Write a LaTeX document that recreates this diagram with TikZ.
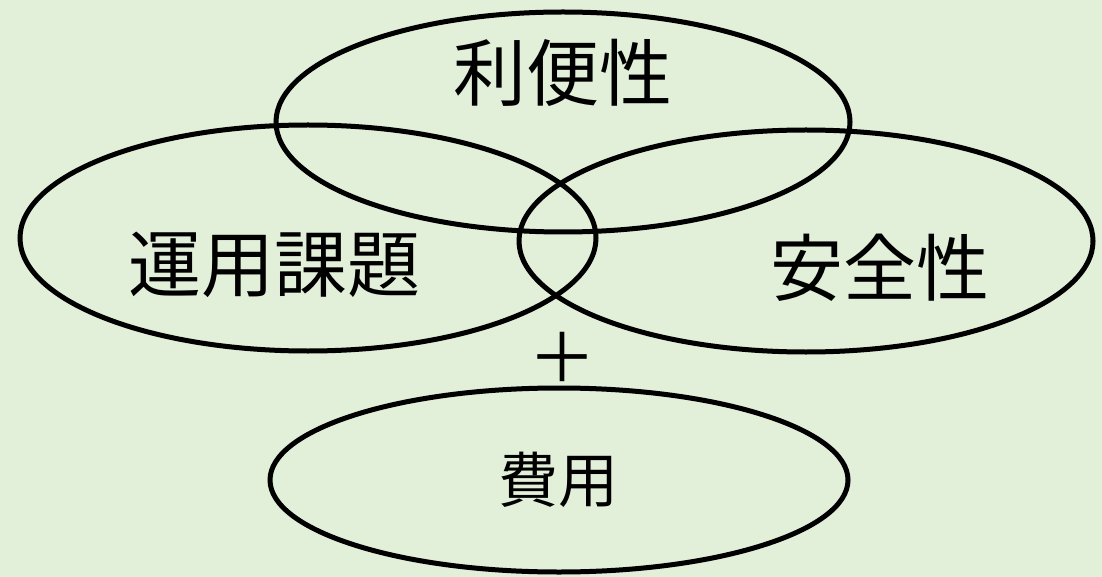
\documentclass[tikz,border=0pt]{standalone}
\usepackage{fontspec}
\newfontfamily\jp{Noto Sans CJK JP}
\definecolor{bg}{HTML}{E2EFD9}
\begin{document}
\begin{tikzpicture}[x=1pt,y=-1pt,
  oval/.style={draw=black,line width=5pt},
  big/.style={font=\jp\fontsize{73}{86}\selectfont,inner sep=0pt},
  small/.style={font=\jp\fontsize{60}{72}\selectfont,inner sep=0pt}]
\fill[bg] (0,0) rectangle (1102,577);
\useasboundingbox (0,0) rectangle (1102,577);
\draw[oval] (563,122) ellipse [x radius=287,y radius=110];
\draw[oval] (308,238) ellipse [x radius=288,y radius=113];
\draw[oval] (806,241) ellipse [x radius=287,y radius=111];
\draw[oval] (559,480) ellipse [x radius=289,y radius=92];
\node[big] (a) at (563,73) {利便性};
\node[big] (b) at (274,265) {運用課題};
\node[big] (c) at (880,268) {安全性};
\node[small] (d) at (558,480) {費用};
\node[font=\jp\fontsize{68}{72}\selectfont,inner sep=0pt] (p) at (562,357) {＋};
\end{tikzpicture}
\end{document}
